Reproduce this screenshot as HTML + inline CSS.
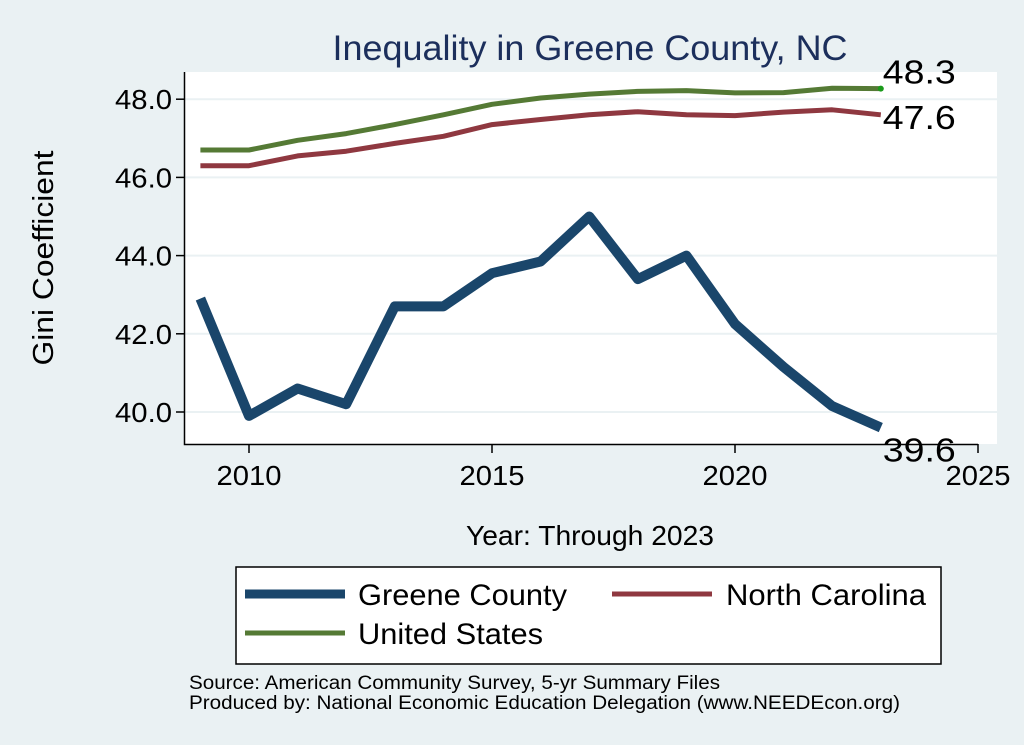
<!DOCTYPE html>
<html><head><meta charset="utf-8"><style>
body{margin:0;background:#eaf1f3;}
svg{display:block;font-family:"Liberation Sans",sans-serif;}
</style></head><body>
<svg width="1024" height="745" viewBox="0 0 1024 745">
<rect x="0" y="0" width="1024" height="745" fill="#eaf1f3"/>
<text x="590" y="60" font-size="35" fill="#1c2f5c" text-anchor="middle" textLength="515" lengthAdjust="spacingAndGlyphs">Inequality in Greene County, NC</text>
<rect x="185" y="72" width="812" height="372" fill="#fff"/>
<g id="grid"></g>
<g id="axes"></g>
<g id="series"></g>
<text x="53" y="258" font-size="29" text-anchor="middle" transform="rotate(-90 53 258)" textLength="215" lengthAdjust="spacingAndGlyphs">Gini Coefficient</text>
<text x="590" y="545" font-size="28" text-anchor="middle" textLength="248" lengthAdjust="spacingAndGlyphs">Year: Through 2023</text>
<g>
<rect x="236" y="567" width="705" height="97" fill="#fff" stroke="#000" stroke-width="1.5"/>
<line x1="245" y1="594" x2="345" y2="594" stroke="#1a466b" stroke-width="9"/>
<text x="358" y="605" font-size="30" textLength="209" lengthAdjust="spacingAndGlyphs">Greene County</text>
<line x1="612" y1="594" x2="712" y2="594" stroke="#8f3840" stroke-width="5"/>
<text x="726" y="605" font-size="30" textLength="200" lengthAdjust="spacingAndGlyphs">North Carolina</text>
<line x1="245" y1="633" x2="345" y2="633" stroke="#557a35" stroke-width="5"/>
<text x="358" y="644" font-size="30" textLength="185" lengthAdjust="spacingAndGlyphs">United States</text>
</g>
<text x="189" y="689" font-size="19" textLength="531" lengthAdjust="spacingAndGlyphs">Source: American Community Survey, 5-yr Summary Files</text>
<text x="189" y="709" font-size="19" textLength="711" lengthAdjust="spacingAndGlyphs">Produced by: National Economic Education Delegation (www.NEEDEcon.org)</text>
</svg>
<script>
const years=[2009,2010,2011,2012,2013,2014,2015,2016,2017,2018,2019,2020,2021,2022,2023];
const greene=[42.9,39.9,40.6,40.2,42.7,42.7,43.55,43.85,45.0,43.4,44.0,42.25,41.15,40.15,39.6];
const nc=[46.3,46.3,46.55,46.67,46.87,47.05,47.35,47.48,47.6,47.68,47.6,47.58,47.67,47.73,47.6];
const us=[46.7,46.7,46.95,47.12,47.35,47.6,47.87,48.03,48.13,48.2,48.22,48.16,48.17,48.28,48.27];
const yTicks=[40,42,44,46,48];
const xTicks=[2010,2015,2020,2025];
const NS='http://www.w3.org/2000/svg';
const xs=v=>249+(v-2010)*48.6;
const ys=v=>412-(v-40)*39.1;
function mk(t,a,p){const e=document.createElementNS(NS,t);for(const k in a)e.setAttribute(k,a[k]);document.getElementById(p).appendChild(e);return e;}
yTicks.forEach(t=>{
 const g=mk('line',{x1:185,x2:997,y1:ys(t),y2:ys(t),stroke:'#eaf1f3','stroke-width':2},'grid');
 
 
 const k=mk('line',{x1:176,x2:185,y1:ys(t),y2:ys(t),stroke:'#000','stroke-width':1.5},'axes');
 
 
 const l=mk('text',{x:172,y:ys(t)+10,'font-size':28,'text-anchor':'end',textLength:57,lengthAdjust:'spacingAndGlyphs'},'axes');
 l.textContent=t.toFixed(1);
 
 
});
xTicks.forEach(t=>{
 const k=mk('line',{x1:xs(t),x2:xs(t),y1:444,y2:453,stroke:'#000','stroke-width':1.5},'axes');
 
 
 const l=mk('text',{x:xs(t),y:485,'font-size':28,'text-anchor':'middle',textLength:65,lengthAdjust:'spacingAndGlyphs'},'axes');
 l.textContent=t;
 
 
});
const ax=mk('path',{d:'M184.5 72 V444.5 H'+xs(2025),fill:'none',stroke:'#000','stroke-width':1.5},'axes');


function line(vals,color,w,name){
 const d=vals.map((v,i)=>(i?'L':'M')+xs(years[i]).toFixed(1)+' '+ys(v).toFixed(1)).join(' ');
 const p=mk('path',{d:d,fill:'none',stroke:color,'stroke-width':w,'stroke-linejoin':'round'},'series');
 
 
}
line(nc,'#8f3840',5,'nc-line');
line(us,'#557a35',5,'us-line');
line(greene,'#1a466b',10,'greene-line');
const n=years.length-1;
const dot=mk('circle',{cx:xs(years[n]),cy:ys(us[n]),r:3,fill:'#1a9a1a'},'series');


[[us,-5,'us-end-label'],[nc,14,'nc-end-label'],[greene,34,'greene-end-label']].forEach(([s,dy,nm])=>{
 const t=mk('text',{x:xs(years[n])+2,y:ys(s[n])+dy,'font-size':33,textLength:73,lengthAdjust:'spacingAndGlyphs'},'series');
 t.textContent=s[n].toFixed(1);
 
 
});
</script>
</body></html>
